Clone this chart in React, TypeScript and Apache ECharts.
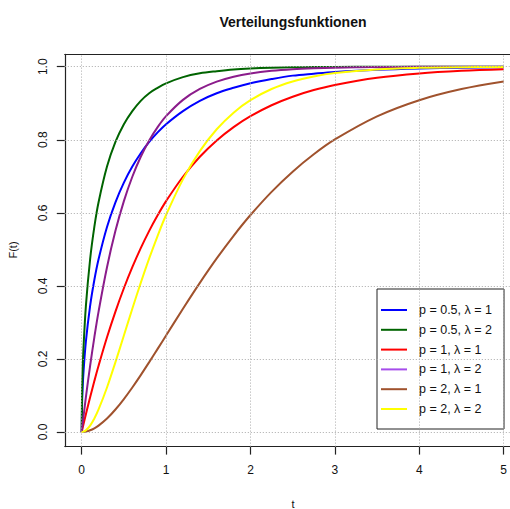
import React, { useEffect, useRef } from "react";
import * as echarts from "echarts";

const T = [0, 0.005, 0.01, 0.02, 0.05, 0.1, 0.15, 0.2, 0.3, 0.4, 0.5, 0.6, 0.7, 0.8, 0.9, 1.0, 1.2, 1.4, 1.6, 1.8, 2.0, 2.25, 2.5, 2.75, 3.0, 3.5, 4.0, 4.5, 5.0];

const blueP05L1 = [0, 0.0796, 0.1125, 0.1585, 0.2482, 0.3453, 0.4161, 0.4729, 0.5614, 0.6289, 0.6827, 0.7267, 0.7632, 0.7941, 0.8203, 0.8427, 0.8786, 0.9066, 0.9275, 0.9422, 0.9545, 0.9661, 0.9756, 0.981, 0.9857, 0.9918, 0.9953, 0.9973, 0.9984];
const greenP05L2 = [0, 0.1125, 0.1585, 0.2227, 0.3453, 0.4729, 0.5614, 0.6289, 0.7267, 0.7941, 0.8427, 0.8786, 0.9066, 0.9275, 0.9422, 0.9545, 0.9715, 0.9819, 0.9879, 0.9926, 0.9953, 0.9973, 0.9984, 0.9991, 0.9995, 0.9998, 0.9999, 1.0, 1.0];
const redP1L1 = [0, 0.005, 0.01, 0.0198, 0.0488, 0.0952, 0.1393, 0.1813, 0.2592, 0.3297, 0.3935, 0.4512, 0.5034, 0.5507, 0.5934, 0.6321, 0.6988, 0.7534, 0.7981, 0.8347, 0.8647, 0.8946, 0.9179, 0.9361, 0.9502, 0.9698, 0.9817, 0.9889, 0.9933];
const purpleP1L2 = [0, 0.01, 0.0198, 0.0392, 0.0952, 0.1813, 0.2592, 0.3297, 0.4512, 0.5507, 0.6321, 0.6988, 0.7534, 0.7981, 0.8347, 0.8647, 0.9093, 0.9392, 0.9592, 0.9727, 0.9817, 0.9889, 0.9933, 0.9959, 0.9975, 0.9991, 0.9997, 0.9999, 1.0];
const brownP2L1 = [0, 0.00001, 0.00005, 0.0002, 0.0012, 0.0047, 0.0102, 0.0175, 0.0369, 0.0616, 0.0902, 0.1219, 0.1558, 0.1912, 0.2275, 0.2642, 0.3374, 0.4082, 0.4751, 0.5372, 0.594, 0.6575, 0.7127, 0.7603, 0.8009, 0.8641, 0.9084, 0.9389, 0.9596];
const yellowP2L2 = [0, 0.00005, 0.0002, 0.0008, 0.0047, 0.0175, 0.0369, 0.0616, 0.1219, 0.1912, 0.2642, 0.3374, 0.4082, 0.4751, 0.5372, 0.594, 0.6916, 0.7689, 0.8288, 0.8743, 0.9084, 0.9389, 0.9596, 0.9734, 0.9826, 0.9927, 0.997, 0.9988, 0.9995];

const seriesNames = ["p = 0.5, λ = 1", "p = 0.5, λ = 2", "p = 1, λ = 1", "p = 1, λ = 2", "p = 2, λ = 1", "p = 2, λ = 2"];
const seriesValues = [blueP05L1, greenP05L2, redP1L1, purpleP1L2, brownP2L1, yellowP2L2];
const lineColors = ["#0000FF", "#006400", "#FF0000", "#8B1C8B", "#A0522D", "#FFFF00"];
const legendColors = ["#0000FF", "#006400", "#FF0000", "#A64DEB", "#A0522D", "#FFFF00"];

const xTicks = [0, 1, 2, 3, 4, 5];
const yTicks = [0, 0.2, 0.4, 0.6, 0.8, 1.0];

const FONT = "'Liberation Sans', Arial, Helvetica, sans-serif";

export default function App() {
  const ref = useRef<HTMLDivElement>(null);
  useEffect(() => {
    const chart = echarts.init(ref.current!, null, { renderer: "svg" });
    const gridLine = { type: [1, 2], color: "#aaaaaa", width: 1 };
    const boxLine = { show: true, lineStyle: { color: "#222", width: 1.2 } };
    const lines = seriesNames.map((name, i) => ({
      name,
      type: "line",
      data: T.map((t, j) => [t, seriesValues[i][j]]),
      showSymbol: false,
      symbol: "none",
      smooth: 0.35,
      lineStyle: { color: lineColors[i], width: 2 },
      itemStyle: { color: lineColors[i] },
      z: 3,
      silent: true,
    }));
    const legendItems: any[] = [];
    seriesNames.forEach((n, i) => {
      const y = 310 + i * 19.8;
      legendItems.push({
        type: "line",
        z: 6,
        silent: true,
        shape: { x1: 381, y1: y, x2: 407, y2: y },
        style: { stroke: legendColors[i], lineWidth: 2 },
      });
      legendItems.push({
        type: "text",
        z: 6,
        silent: true,
        x: 419,
        y,
        style: { text: n, font: `12.5px ${FONT}`, fill: "#111", textAlign: "left", textVerticalAlign: "middle" },
      });
    });
    const option: any = {
      animation: false,
      textStyle: { fontFamily: FONT },
      grid: {
        show: false,
        left: 64.8,
        top: 54.3,
        width: 445.2,
        height: 392.3,
        containLabel: false,
      },
      xAxis: [
        {
          type: "value",
          min: -0.2,
          max: 5.071,
          axisLine: { ...boxLine, onZero: false },
          splitLine: { show: false },
          axisTick: { show: true, customValues: xTicks, length: 8, lineStyle: { color: "#222", width: 1.2 } },
          axisLabel: { customValues: xTicks, margin: 17, fontSize: 12, color: "#111", fontFamily: FONT },
        },
        {
          type: "value",
          position: "top",
          min: -0.2,
          max: 5.071,
          axisLine: { ...boxLine, onZero: false },
          splitLine: { show: false },
          axisTick: { show: false },
          axisLabel: { show: false },
        },
      ],
      yAxis: {
        type: "value",
        min: -0.04,
        max: 1.034,
        axisLine: { ...boxLine, onZero: false },
        splitLine: { show: false },
        axisTick: { show: true, customValues: yTicks, length: 8, lineStyle: { color: "#222", width: 1.2 } },
        axisLabel: {
          customValues: yTicks,
          rotate: 90,
          margin: 16,
          fontSize: 12,
          color: "#111",
          fontFamily: FONT,
          formatter: (v: number) => v.toFixed(1),
        },
      },
      graphic: [
        {
          type: "rect",
          z: 5,
          shape: { x: 377, y: 289, width: 127, height: 140 },
          style: { fill: "#fff", stroke: "#222", lineWidth: 1 },
          silent: true,
        },
        ...legendItems,
        {
          type: "text",
          x: 293,
          y: 22,
          style: { text: "Verteilungsfunktionen", font: `bold 14px ${FONT}`, fill: "#111", textAlign: "center", textVerticalAlign: "middle" },
        },
        {
          type: "text",
          x: 293,
          y: 504,
          style: { text: "t", font: `11px ${FONT}`, fill: "#111", textAlign: "center", textVerticalAlign: "middle" },
        },
        {
          type: "text",
          x: 13,
          y: 250,
          rotation: Math.PI / 2,
          style: { text: "F(t)", font: `11px ${FONT}`, fill: "#111", textAlign: "center", textVerticalAlign: "middle" },
        },
      ],
      series: [
        {
          type: "line",
          data: [],
          silent: true,
          z: 1,
          markLine: {
            silent: true,
            symbol: "none",
            label: { show: false },
            lineStyle: gridLine,
            data: [
              ...xTicks.map((v) => ({ xAxis: v, lineStyle: gridLine })),
              ...yTicks.map((v) => ({ yAxis: v, lineStyle: gridLine })),
            ],
          },
        },
        ...lines,
      ],
    };
    chart.setOption(option);
    return () => chart.dispose();
  }, []);
  return <div ref={ref} style={{ position: "absolute", left: 0, top: 0, width: 510, height: 509 }} />;
}
